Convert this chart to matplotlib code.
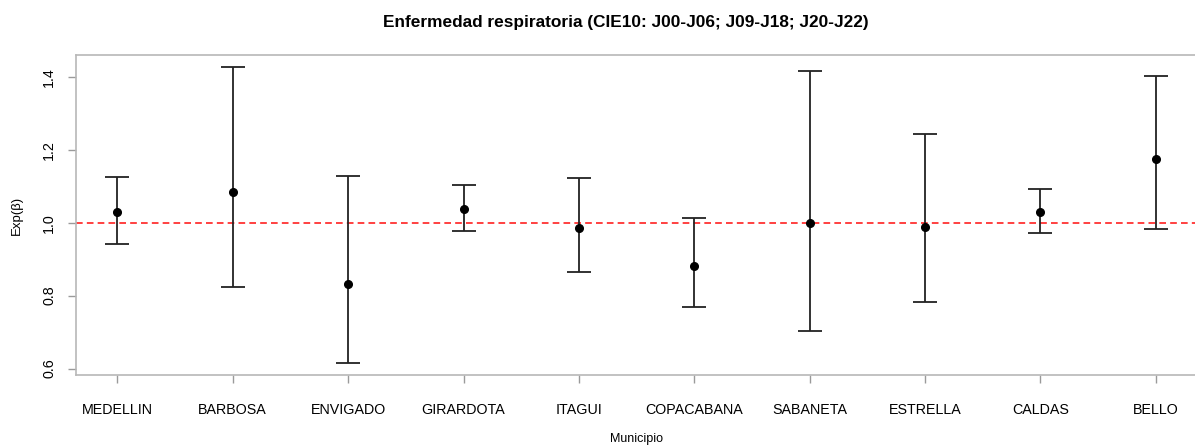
import matplotlib
matplotlib.use("Agg")
import matplotlib.pyplot as plt
import numpy as np

plt.rcParams['font.family'] = ['Liberation Sans', 'DejaVu Sans']

municipios = ["MEDELLIN", "BARBOSA", "ENVIGADO", "GIRARDOTA", "ITAGUI",
              "COPACABANA", "SABANETA", "ESTRELLA", "CALDAS", "BELLO"]
estimate = [1.029, 1.085, 0.833, 1.037, 0.985, 0.882, 1.000, 0.987, 1.030, 1.174]
lower = [0.942, 0.825, 0.6145, 0.976, 0.865, 0.768, 0.703, 0.783, 0.972, 0.984]
upper = [1.124, 1.426, 1.129, 1.102, 1.122, 1.012, 1.417, 1.243, 1.091, 1.402]
yticks = [0.6, 0.8, 1.0, 1.2, 1.4]

W, H = 1195, 446
fig = plt.figure(figsize=(W / 100, H / 100), dpi=100)
left_px, right_px, top_px, bot_px = 75.8, 1197.4, 55, 375
ax = fig.add_axes([left_px / W, (H - bot_px) / H, (right_px - left_px) / W, (bot_px - top_px) / H])

x = np.arange(1, len(municipios) + 1)
est = np.array(estimate)
lo = np.array(lower)
hi = np.array(upper)

ax.axhline(1.0, color="#ff2020", linestyle=(0, (4, 2.5)), linewidth=1.2, zorder=1)
ax.errorbar(x, est, yerr=[est - lo, hi - est], fmt="none", ecolor="#222222",
            elinewidth=1.3, capsize=8.6, capthick=1.3, zorder=2)
ax.plot(x, est, "o", color="black", markersize=5.5, zorder=3)

ax.set_xlim(0.64, 10.36)
ax.set_ylim(0.5825, 1.4595)
ax.set_xticks(x)
ax.set_xticklabels(municipios, fontsize=10.3)
ax.set_yticks(yticks)
ax.set_yticklabels([f"{v:.1f}" for v in yticks], fontsize=10.3, rotation=90, va="center")

for s in ax.spines.values():
    s.set_color("#b8b8b8")
    s.set_linewidth(1.2)
ax.tick_params(axis="both", colors="#9a9a9a", length=6, width=1, labelcolor="black")
ax.tick_params(axis="x", pad=14)
ax.tick_params(axis="y", pad=8)

ax.set_title("Enfermedad respiratoria (CIE10: J00-J06; J09-J18; J20-J22)",
             fontsize=12.4, fontweight="bold", pad=20, x=0.490)
ax.set_xlabel("Municipio", fontsize=9, labelpad=12)
ax.set_ylabel("Exp(\u03b2)", fontsize=9.5, labelpad=14)

fig.savefig("out.png", dpi=100)
